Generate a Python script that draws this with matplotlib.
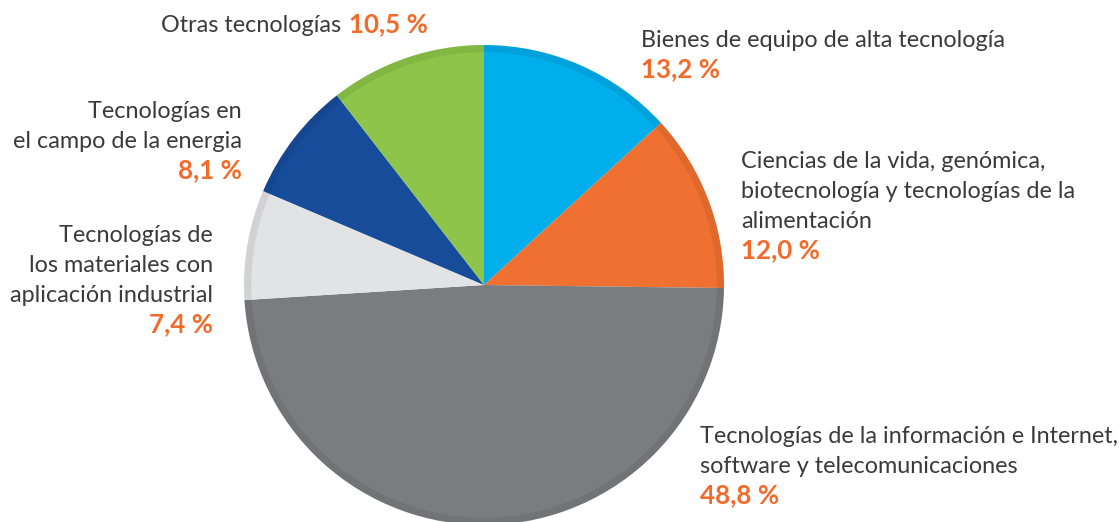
import matplotlib
matplotlib.use("Agg")
import matplotlib.pyplot as plt

# ---------------------------------------------------------------------------
# Data
# ---------------------------------------------------------------------------
labels = [
    ["Bienes de equipo de alta tecnología"],
    ["Ciencias de la vida, genómica,",
     "biotecnología y tecnologías de la",
     "alimentación"],
    ["Tecnologías de la información e Internet,",
     "software y telecomunicaciones"],
    ["Tecnologías de",
     "los materiales con",
     "aplicación industrial"],
    ["Tecnologías en",
     "el campo de la energia"],
    ["Otras tecnologías"],
]
shares = [13.2, 12.0, 48.8, 7.4, 8.1, 10.5]
colors = ["#00AEEC", "#F07031", "#7B7C80", "#E2E3E5", "#174C9B", "#8CC54A"]

TEXT = "#3A3A3A"
ORANGE = "#F26B2A"
W, H = 1119, 522

fig = plt.figure(figsize=(W / 100, H / 100), dpi=100)

# pie centred at (484, 285) px, radius 240 px
cx, cy, r = 484, 285, 240
ax = fig.add_axes([(cx - r) / W, (H - cy - r) / H, 2 * r / W, 2 * r / H])
wedges, _ = ax.pie(shares, colors=colors, startangle=90, counterclock=False,
                   radius=1, wedgeprops=dict(linewidth=0))
# soft darker rim to mimic the shading
for w in wedges:
    ax.add_patch(matplotlib.patches.Wedge((0, 0), 1.0, w.theta1, w.theta2,
                                          width=0.03, color="black",
                                          alpha=0.07, lw=0))
ax.set_xlim(-1, 1)
ax.set_ylim(-1, 1)
ax.set_aspect("auto")
ax.axis("off")


def px(x, y):
    return x / W, 1 - y / H


def put(x, y, s, ha="left", bold=False, color=TEXT):
    fx, fy = px(x, y)
    fig.text(fx, fy, s, ha=ha, va="baseline", family="Lato",
             fontsize=18.7 if bold else 16.85,
             fontweight="bold" if bold else "normal", color=color)


def pct(v):
    return f"{v:.1f}".replace(".", ",") + " %"


LS = 30  # line spacing, px

# Bienes de equipo (right, top)
put(641, 47, labels[0][0])
put(641, 77, pct(shares[0]), bold=True, color=ORANGE)

# Ciencias de la vida
for i, line in enumerate(labels[1]):
    put(741, 168 + i * LS, line)
put(741, 168 + 3 * LS, pct(shares[1]), bold=True, color=ORANGE)

# TIC
for i, line in enumerate(labels[2]):
    put(700, 443 + i * LS, line)
put(700, 443 + 2 * LS, pct(shares[2]), bold=True, color=ORANGE)

# Materiales
for i, line in enumerate(labels[3]):
    put(213, 242 + i * LS, line, ha="right")
put(213, 242 + 3 * LS, pct(shares[3]), ha="right", bold=True, color=ORANGE)

# Energia
for i, line in enumerate(labels[4]):
    put(242, 118 + i * LS, line, ha="right")
put(242, 118 + 2 * LS, pct(shares[4]), ha="right", bold=True, color=ORANGE)

# Otras tecnologías: label and value on one line
put(428, 32, pct(shares[5]), ha="right", bold=True, color=ORANGE)
put(341, 32, labels[5][0], ha="right")

fig.savefig("out.png", dpi=100)
